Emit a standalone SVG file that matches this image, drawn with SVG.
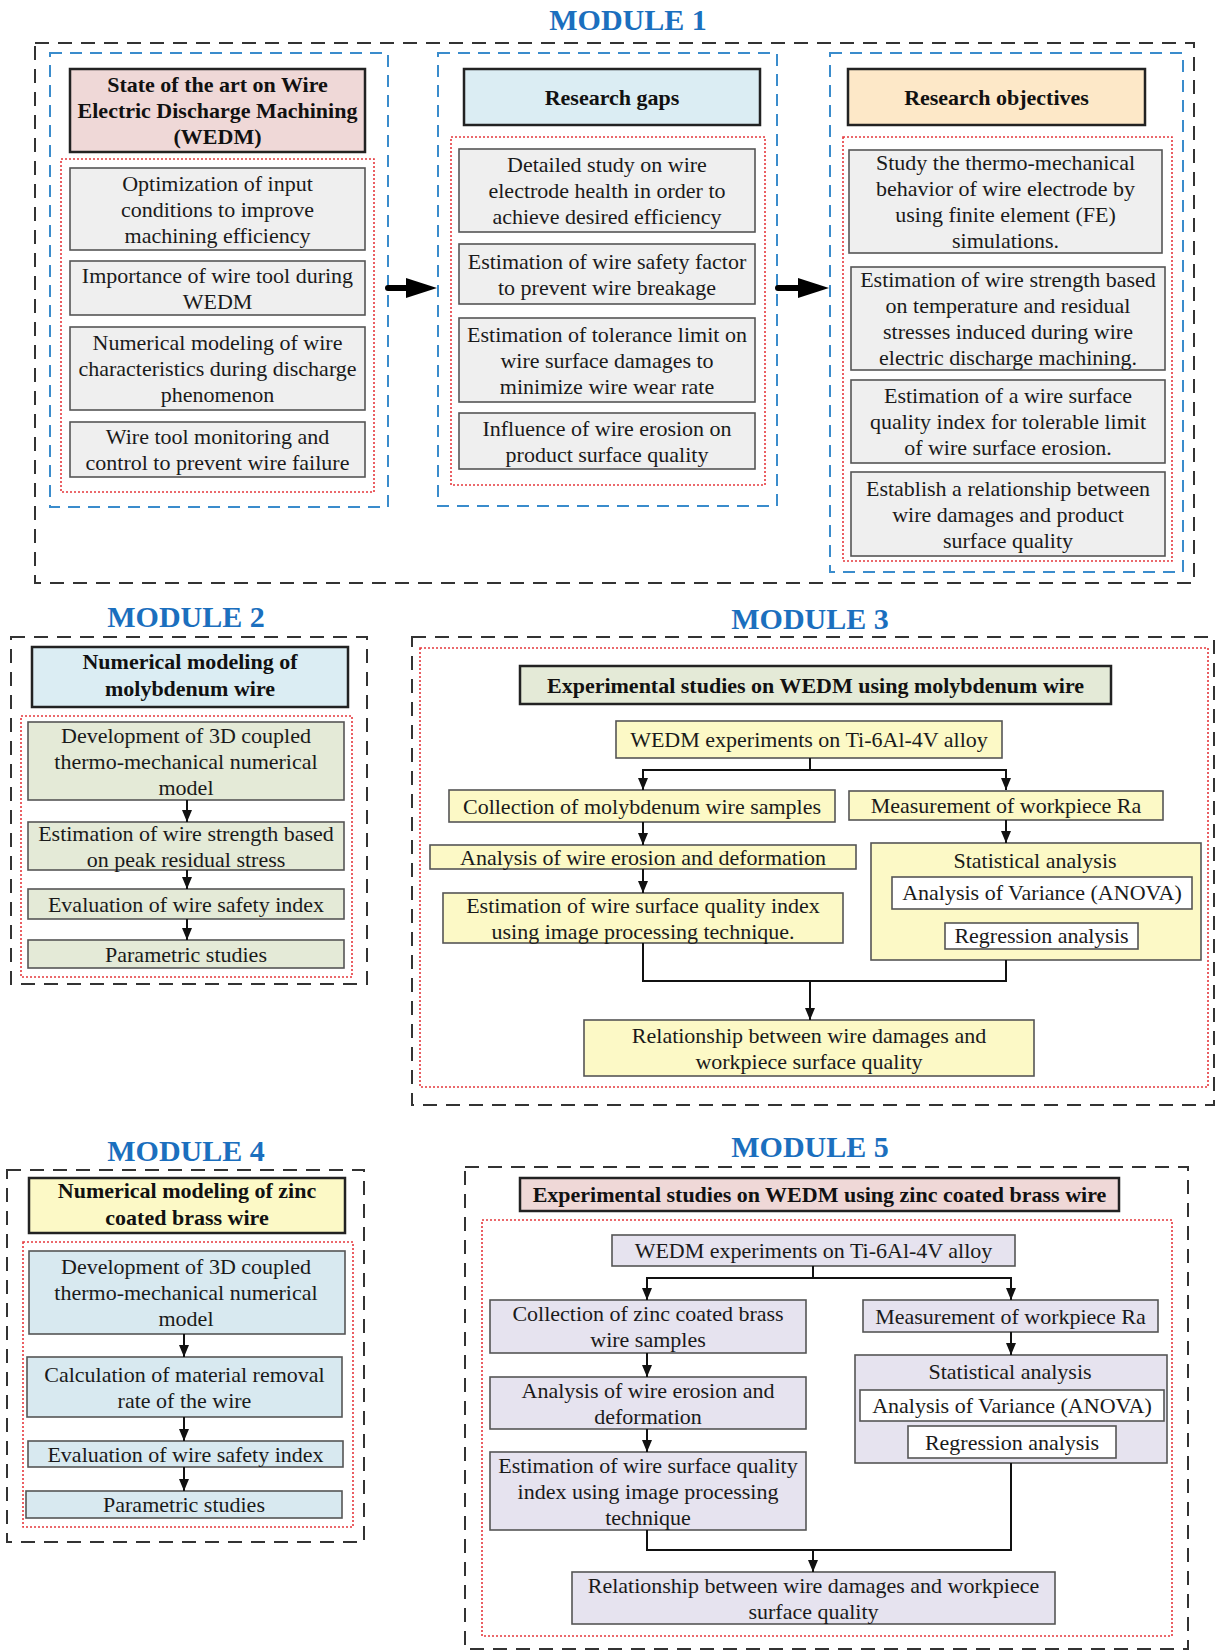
<svg xmlns="http://www.w3.org/2000/svg" width="1217" height="1652" viewBox="0 0 1217 1652">
<defs>
<style>
.t{font-family:"Liberation Serif","Times New Roman",serif;font-weight:bold;font-size:30px;fill:#1b6fbe;text-anchor:middle}
.h{font-family:"Liberation Serif","Times New Roman",serif;font-weight:bold;font-size:22px;fill:#111;text-anchor:middle}
.b{font-family:"Liberation Serif","Times New Roman",serif;font-size:22px;fill:#1a1a1a;text-anchor:middle}
.od{fill:none;stroke:#333;stroke-width:2;stroke-dasharray:14 9}
.bd{fill:none;stroke:#3a8ccc;stroke-width:2;stroke-dasharray:12 8}
.rd{fill:none;stroke:#e5383d;stroke-width:1.6;stroke-dasharray:2 2}
.hb{stroke:#222;stroke-width:2.5}
.cb{stroke:#555;stroke-width:1.6}
.ln{fill:none;stroke:#111;stroke-width:2}
.gray{fill:#efefef}.pink{fill:#efd8d7}.lblue{fill:#dbedf3}.peach{fill:#fde8c8}
.olive{fill:#e4ead7}.yel{fill:#fcf9c6}.blue2{fill:#d8e9f0}.lav{fill:#e6e3ef}.wht{fill:#fff}
</style>
<marker id="ah" markerWidth="12" markerHeight="12" viewBox="0 0 12 12" refX="12" refY="6" orient="auto" markerUnits="userSpaceOnUse">
<path d="M0,1 L12,6 L0,11 Z" fill="#111"/>
</marker>
</defs>
<rect width="1217" height="1652" fill="#fff"/>

<!-- MODULE 1 -->
<g id="module1">
<text class="t" x="628" y="30">MODULE 1</text>
<rect class="od" x="35" y="43" width="1159" height="540"/>
<rect class="bd" x="50" y="53" width="338" height="454"/>
<rect class="bd" x="438" y="53" width="339" height="453"/>
<rect class="bd" x="830" y="53" width="353" height="519"/>
<rect class="rd" x="61" y="159" width="313" height="333"/>
<rect class="rd" x="451" y="137" width="314" height="348"/>
<rect class="rd" x="843" y="137" width="329" height="424"/>
</g>
<g id="m1-state">
<rect class="hb pink" x="70" y="69" width="295" height="83"/>
<text class="h" x="217.5" y="92">State of the art on Wire</text>
<text class="h" x="217.5" y="118">Electric Discharge Machining</text>
<text class="h" x="217.5" y="144">(WEDM)</text>
</g>
<g id="m1-gaps">
<rect class="hb lblue" x="464" y="69" width="296" height="56"/>
<text class="h" x="612" y="104.5">Research gaps</text>
</g>
<g id="m1-objectives">
<rect class="hb peach" x="848" y="69" width="297" height="56"/>
<text class="h" x="996.5" y="104.5">Research objectives</text>
</g>
<g id="m1-a1">
<rect class="cb gray" x="70" y="168" width="295" height="82"/>
<text class="b" x="217.5" y="190.5">Optimization of input</text>
<text class="b" x="217.5" y="216.5">conditions to improve</text>
<text class="b" x="217.5" y="242.5">machining efficiency</text>
</g>
<g id="m1-a2">
<rect class="cb gray" x="70" y="261" width="295" height="54"/>
<text class="b" x="217.5" y="282.5">Importance of wire tool during</text>
<text class="b" x="217.5" y="308.5">WEDM</text>
</g>
<g id="m1-a3">
<rect class="cb gray" x="70" y="327" width="295" height="83"/>
<text class="b" x="217.5" y="350">Numerical modeling of wire</text>
<text class="b" x="217.5" y="376">characteristics during discharge</text>
<text class="b" x="217.5" y="402">phenomenon</text>
</g>
<g id="m1-a4">
<rect class="cb gray" x="70" y="422" width="295" height="55"/>
<text class="b" x="217.5" y="444">Wire tool monitoring and</text>
<text class="b" x="217.5" y="470">control to prevent wire failure</text>
</g>
<g id="m1-b1">
<rect class="cb gray" x="459" y="149" width="296" height="83"/>
<text class="b" x="607" y="172">Detailed study on wire</text>
<text class="b" x="607" y="198">electrode health in order to</text>
<text class="b" x="607" y="224">achieve desired efficiency</text>
</g>
<g id="m1-b2">
<rect class="cb gray" x="459" y="244" width="296" height="60"/>
<text class="b" x="607" y="268.5">Estimation of wire safety factor</text>
<text class="b" x="607" y="294.5">to prevent wire breakage</text>
</g>
<g id="m1-b3">
<rect class="cb gray" x="459" y="318" width="296" height="84"/>
<text class="b" x="607" y="341.5">Estimation of tolerance limit on</text>
<text class="b" x="607" y="367.5">wire surface damages to</text>
<text class="b" x="607" y="393.5">minimize wire wear rate</text>
</g>
<g id="m1-b4">
<rect class="cb gray" x="459" y="413" width="296" height="56"/>
<text class="b" x="607" y="435.5">Influence of wire erosion on</text>
<text class="b" x="607" y="461.5">product surface quality</text>
</g>
<g id="m1-c1">
<rect class="cb gray" x="849" y="150" width="313" height="103"/>
<text class="b" x="1005.5" y="170">Study the thermo-mechanical</text>
<text class="b" x="1005.5" y="196">behavior of wire electrode by</text>
<text class="b" x="1005.5" y="222">using finite element (FE)</text>
<text class="b" x="1005.5" y="248">simulations.</text>
</g>
<g id="m1-c2">
<rect class="cb gray" x="851" y="267" width="314" height="103"/>
<text class="b" x="1008" y="287">Estimation of wire strength based</text>
<text class="b" x="1008" y="313">on temperature and residual</text>
<text class="b" x="1008" y="339">stresses induced during wire</text>
<text class="b" x="1008" y="365">electric discharge machining.</text>
</g>
<g id="m1-c3">
<rect class="cb gray" x="851" y="380" width="314" height="83"/>
<text class="b" x="1008" y="403">Estimation of a wire surface</text>
<text class="b" x="1008" y="429">quality index for tolerable limit</text>
<text class="b" x="1008" y="455">of wire surface erosion.</text>
</g>
<g id="m1-c4">
<rect class="cb gray" x="851" y="472" width="314" height="84"/>
<text class="b" x="1008" y="495.5">Establish a relationship between</text>
<text class="b" x="1008" y="521.5">wire damages and product</text>
<text class="b" x="1008" y="547.5">surface quality</text>
</g>

<!-- MODULE 2 -->
<g id="module2">
<text class="t" x="186" y="627">MODULE 2</text>
<rect class="od" x="11" y="637" width="356" height="347"/>
<rect class="rd" x="21" y="716" width="331" height="261"/>
</g>
<g id="m2-head">
<rect class="hb lblue" x="32" y="647" width="316" height="60"/>
<text class="h" x="190" y="669">Numerical modeling of</text>
<text class="h" x="190" y="696">molybdenum wire</text>
</g>
<g id="m2-n1">
<rect class="cb olive" x="28" y="722" width="316" height="78"/>
<text class="b" x="186" y="742.5">Development of 3D coupled</text>
<text class="b" x="186" y="768.5">thermo-mechanical numerical</text>
<text class="b" x="186" y="794.5">model</text>
</g>
<g id="m2-n2">
<rect class="cb olive" x="28" y="822" width="316" height="48"/>
<text class="b" x="186" y="840.5">Estimation of wire strength based</text>
<text class="b" x="186" y="866.5">on peak residual stress</text>
</g>
<g id="m2-n3">
<rect class="cb olive" x="28" y="889" width="316" height="30"/>
<text class="b" x="186" y="911.5">Evaluation of wire safety index</text>
</g>
<g id="m2-n4">
<rect class="cb olive" x="28" y="940" width="316" height="28"/>
<text class="b" x="186" y="961.5">Parametric studies</text>
</g>

<!-- MODULE 3 -->
<g id="module3">
<text class="t" x="810" y="629">MODULE 3</text>
<rect class="od" x="412" y="637" width="802" height="468"/>
<rect class="rd" x="420" y="648" width="788" height="439"/>
</g>
<g id="m3-head">
<rect class="hb olive" x="520" y="666" width="591" height="38"/>
<text class="h" x="815.5" y="692.5">Experimental studies on WEDM using molybdenum wire</text>
</g>
<g id="m3-exp">
<rect class="cb yel" x="616" y="721" width="386" height="37"/>
<text class="b" x="809" y="747">WEDM experiments on Ti-6Al-4V alloy</text>
</g>
<g id="m3-coll">
<rect class="cb yel" x="449" y="790" width="386" height="32"/>
<text class="b" x="642" y="813.5">Collection of molybdenum wire samples</text>
</g>
<g id="m3-meas">
<rect class="cb yel" x="849" y="791" width="314" height="29"/>
<text class="b" x="1006" y="813">Measurement of workpiece Ra</text>
</g>
<g id="m3-anal">
<rect class="cb yel" x="430" y="845" width="426" height="24"/>
<text class="b" x="643" y="864.5">Analysis of wire erosion and deformation</text>
</g>
<g id="m3-est">
<rect class="cb yel" x="443" y="893" width="400" height="50"/>
<text class="b" x="643" y="912.5">Estimation of wire surface quality index</text>
<text class="b" x="643" y="938.5">using image processing technique.</text>
</g>
<g id="m3-stat">
<rect class="cb yel" x="871" y="843" width="330" height="117"/>
<text class="b" x="1035" y="868">Statistical analysis</text>
<rect class="cb wht" x="892" y="877" width="300" height="32"/>
<text class="b" x="1042" y="900">Analysis of Variance (ANOVA)</text>
<rect class="cb wht" x="945" y="923" width="193" height="26"/>
<text class="b" x="1041.5" y="943">Regression analysis</text>
</g>
<g id="m3-rel">
<rect class="cb yel" x="584" y="1020" width="450" height="56"/>
<text class="b" x="809" y="1042.5">Relationship between wire damages and</text>
<text class="b" x="809" y="1068.5">workpiece surface quality</text>
</g>

<!-- MODULE 4 -->
<g id="module4">
<text class="t" x="186" y="1161">MODULE 4</text>
<rect class="od" x="7" y="1170" width="357" height="372"/>
<rect class="rd" x="23" y="1242" width="330" height="285"/>
</g>
<g id="m4-head">
<rect class="hb yel" x="29" y="1178" width="316" height="55"/>
<text class="h" x="187" y="1198">Numerical modeling of zinc</text>
<text class="h" x="187" y="1225">coated brass wire</text>
</g>
<g id="m4-n1">
<rect class="cb blue2" x="29" y="1251" width="316" height="83"/>
<text class="b" x="186" y="1274">Development of 3D coupled</text>
<text class="b" x="186" y="1300">thermo-mechanical numerical</text>
<text class="b" x="186" y="1326">model</text>
</g>
<g id="m4-n2">
<rect class="cb blue2" x="27" y="1357" width="315" height="60"/>
<text class="b" x="184.5" y="1381.5">Calculation of material removal</text>
<text class="b" x="184.5" y="1407.5">rate of the wire</text>
</g>
<g id="m4-n3">
<rect class="cb blue2" x="28" y="1441" width="315" height="26"/>
<text class="b" x="185.5" y="1461.5">Evaluation of wire safety index</text>
</g>
<g id="m4-n4">
<rect class="cb blue2" x="26" y="1491" width="316" height="27"/>
<text class="b" x="184" y="1512">Parametric studies</text>
</g>

<!-- MODULE 5 -->
<g id="module5">
<text class="t" x="810" y="1157">MODULE 5</text>
<rect class="od" x="465" y="1167" width="723" height="482"/>
<rect class="rd" x="482" y="1220" width="690" height="416"/>
</g>
<g id="m5-head">
<rect class="hb pink" x="520" y="1178" width="599" height="33"/>
<text class="h" x="819.5" y="1202">Experimental studies on WEDM using zinc coated brass wire</text>
</g>
<g id="m5-exp">
<rect class="cb lav" x="612" y="1235" width="403" height="31"/>
<text class="b" x="813.5" y="1258">WEDM experiments on Ti-6Al-4V alloy</text>
</g>
<g id="m5-coll">
<rect class="cb lav" x="490" y="1300" width="316" height="53"/>
<text class="b" x="648" y="1321">Collection of zinc coated brass</text>
<text class="b" x="648" y="1347">wire samples</text>
</g>
<g id="m5-meas">
<rect class="cb lav" x="863" y="1300" width="295" height="32"/>
<text class="b" x="1010.5" y="1323.5">Measurement of workpiece Ra</text>
</g>
<g id="m5-anal">
<rect class="cb lav" x="490" y="1377" width="316" height="52"/>
<text class="b" x="648" y="1397.5">Analysis of wire erosion and</text>
<text class="b" x="648" y="1423.5">deformation</text>
</g>
<g id="m5-est">
<rect class="cb lav" x="490" y="1452" width="316" height="78"/>
<text class="b" x="648" y="1472.5">Estimation of wire surface quality</text>
<text class="b" x="648" y="1498.5">index using image processing</text>
<text class="b" x="648" y="1524.5">technique</text>
</g>
<g id="m5-stat">
<rect class="cb lav" x="855" y="1355" width="312" height="108"/>
<text class="b" x="1010" y="1379">Statistical analysis</text>
<rect class="cb wht" x="860" y="1390" width="304" height="31"/>
<text class="b" x="1012" y="1413">Analysis of Variance (ANOVA)</text>
<rect class="cb wht" x="908" y="1426" width="208" height="32"/>
<text class="b" x="1012" y="1450">Regression analysis</text>
</g>
<g id="m5-rel">
<rect class="cb lav" x="572" y="1572" width="483" height="52"/>
<text class="b" x="813.5" y="1592.5">Relationship between wire damages and workpiece</text>
<text class="b" x="813.5" y="1618.5">surface quality</text>
</g>

<!-- Connectors -->
<g id="connectors">
<!-- Module 1 big arrows -->
<line x1="388" y1="288" x2="410" y2="288" stroke="#000" stroke-width="6" stroke-linecap="round"/>
<path d="M406,278 L437,288 L406,298 Z" fill="#000"/>
<line x1="778" y1="288" x2="801" y2="288" stroke="#000" stroke-width="6" stroke-linecap="round"/>
<path d="M798,278 L829,288 L798,298 Z" fill="#000"/>
<!-- Module 2 -->
<line class="ln" x1="187" y1="800" x2="187" y2="822" marker-end="url(#ah)"/>
<line class="ln" x1="187" y1="870" x2="187" y2="889" marker-end="url(#ah)"/>
<line class="ln" x1="187" y1="919" x2="187" y2="940" marker-end="url(#ah)"/>
<!-- Module 3 -->
<polyline class="ln" points="810,758 810,770"/>
<polyline class="ln" points="643,770 1006,770"/>
<line class="ln" x1="643" y1="769" x2="643" y2="790" marker-end="url(#ah)"/>
<line class="ln" x1="1006" y1="769" x2="1006" y2="790" marker-end="url(#ah)"/>
<line class="ln" x1="643" y1="822" x2="643" y2="845" marker-end="url(#ah)"/>
<line class="ln" x1="643" y1="869" x2="643" y2="893" marker-end="url(#ah)"/>
<line class="ln" x1="1006" y1="820" x2="1006" y2="843" marker-end="url(#ah)"/>
<polyline class="ln" points="643,943 643,981 1006,981 1006,960"/>
<line class="ln" x1="810" y1="980" x2="810" y2="1020" marker-end="url(#ah)"/>
<!-- Module 4 -->
<line class="ln" x1="184" y1="1334" x2="184" y2="1357" marker-end="url(#ah)"/>
<line class="ln" x1="184" y1="1417" x2="184" y2="1441" marker-end="url(#ah)"/>
<line class="ln" x1="184" y1="1467" x2="184" y2="1491" marker-end="url(#ah)"/>
<!-- Module 5 -->
<polyline class="ln" points="813,1266 813,1278"/>
<polyline class="ln" points="647,1278 1011,1278"/>
<line class="ln" x1="647" y1="1277" x2="647" y2="1300" marker-end="url(#ah)"/>
<line class="ln" x1="1011" y1="1277" x2="1011" y2="1300" marker-end="url(#ah)"/>
<line class="ln" x1="647" y1="1353" x2="647" y2="1377" marker-end="url(#ah)"/>
<line class="ln" x1="647" y1="1429" x2="647" y2="1452" marker-end="url(#ah)"/>
<line class="ln" x1="1011" y1="1332" x2="1011" y2="1355" marker-end="url(#ah)"/>
<polyline class="ln" points="647,1530 647,1550 1011,1550 1011,1463"/>
<line class="ln" x1="813" y1="1549" x2="813" y2="1572" marker-end="url(#ah)"/>
</g>
</svg>
